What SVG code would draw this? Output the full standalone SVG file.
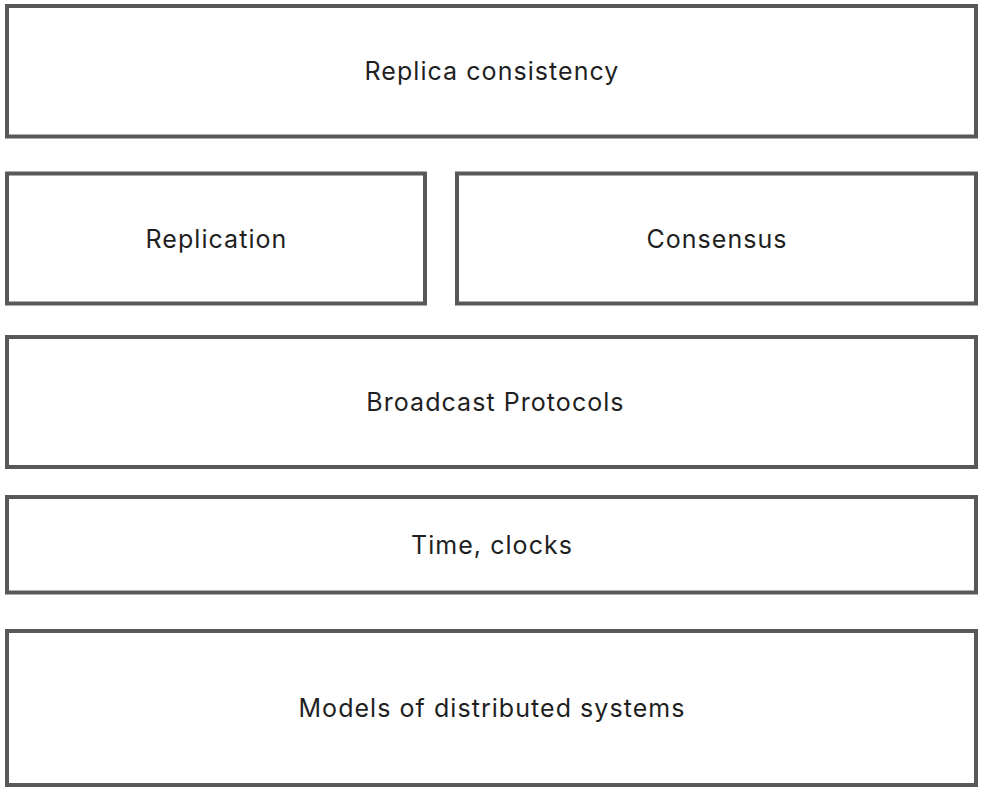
<svg xmlns="http://www.w3.org/2000/svg" width="988" height="791" viewBox="0 0 988 791">
<style>
.box{fill:#fff;stroke:#585858;stroke-width:4}
.lbl{font-family:Inter,"Noto Sans","Liberation Sans",sans-serif;font-size:25px;letter-spacing:1.05px;fill:#1f1f1f;text-anchor:middle;dominant-baseline:central}
</style>
<rect width="988" height="791" fill="#fff"/>
<g id="replica-consistency"><rect class="box" x="7" y="6" width="969" height="130.5"/><text class="lbl" x="492" y="71">Replica consistency</text></g>
<g id="replication"><rect class="box" x="7" y="173.5" width="418" height="130"/><text class="lbl" x="216.5" y="238.5">Replication</text></g>
<g id="consensus"><rect class="box" x="457" y="173.5" width="519" height="130"/><text class="lbl" x="717" y="238.5">Consensus</text></g>
<g id="broadcast"><rect class="box" x="7" y="337" width="969" height="130"/><text class="lbl" x="495.5" y="402">Broadcast Protocols</text></g>
<g id="time"><rect class="box" x="7" y="497" width="969" height="95.5"/><text class="lbl" x="492" y="544.5">Time, clocks</text></g>
<g id="models"><rect class="box" x="7" y="631" width="969" height="154"/><text class="lbl" x="492" y="708">Models of distributed systems</text></g>
<g id="connectors"></g>
</svg>
